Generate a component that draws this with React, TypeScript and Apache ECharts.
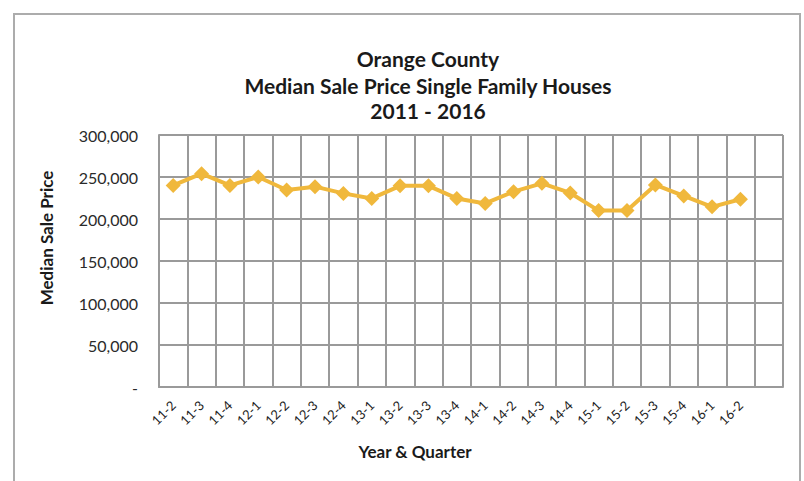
import React, { useEffect, useRef } from "react";
import * as echarts from "echarts";

const categories = ["11-2","11-3","11-4","12-1","12-2","12-3","12-4","13-1","13-2","13-3","13-4","14-1","14-2","14-3","14-4","15-1","15-2","15-3","15-4","16-1","16-2",""];
const prices = [240000,254000,240000,250000,234500,238500,230500,224500,239500,239500,224500,218500,232500,242500,231000,210000,210000,240500,227500,214500,223500,null];
const titleLines = ["Orange County","Median Sale Price Single Family Houses","2011 - 2016"];

export default function App() {
  const ref = useRef<HTMLDivElement>(null);
  useEffect(() => {
    const chart = echarts.init(ref.current!, null, { renderer: "svg" });
    const font = "Lato, 'Liberation Sans', sans-serif";
    chart.setOption({
      animation: false,
      backgroundColor: "#ffffff",
      graphic: [
        { type: "rect", shape: { x: 14, y: 14, width: 786, height: 480 }, style: { fill: "none", stroke: "#acacac", lineWidth: 2 }, silent: true },
        ...titleLines.map((t, i) => ({
          type: "text", x: 428, y: [58, 85, 110][i], style: { text: t, fill: "#1a1a1a", font: `bold 21px ${font}`, textAlign: "center", textVerticalAlign: "middle" },
        })),
        { type: "text", x: 46, y: 238, rotation: Math.PI / 2, style: { text: "Median Sale Price", fill: "#1a1a1a", font: `bold 17px ${font}`, textAlign: "center", textVerticalAlign: "middle" } },
        { type: "text", x: 415, y: 451, style: { text: "Year & Quarter", fill: "#1a1a1a", font: `bold 17px ${font}`, textAlign: "center", textVerticalAlign: "middle" } },
      ],
      grid: { left: 159, top: 135, width: 624, height: 252, containLabel: false },
      xAxis: {
        type: "category",
        data: categories,
        boundaryGap: true,
        axisLine: { show: true, lineStyle: { color: "#9a9a9a", width: 2 } },
        axisTick: { show: false },
        splitLine: { show: true, interval: 0, lineStyle: { color: "#9a9a9a", width: 2 } },
        axisLabel: { interval: 0, rotate: 45, color: "#222", fontFamily: font, fontSize: 13, margin: 16 },
      },
      yAxis: {
        type: "value",
        min: 0,
        max: 300000,
        interval: 50000,
        axisLine: { show: true, lineStyle: { color: "#9a9a9a", width: 2 } },
        axisTick: { show: false },
        splitLine: { show: true, lineStyle: { color: "#9a9a9a", width: 2 } },
        axisLabel: {
          color: "#2a2a2a",
          fontFamily: font,
          fontSize: 16,
          margin: 21,
          formatter: (v: number) => (v === 0 ? "-" : v.toLocaleString("en-US")),
        },
      },
      series: [
        {
          type: "line",
          data: prices,
          symbol: "diamond",
          symbolSize: 15,
          lineStyle: { color: "#F0B83C", width: 4 },
          itemStyle: { color: "#F0B83C" },
          connectNulls: false,
        },
      ],
    });
    return () => chart.dispose();
  }, []);
  return <div ref={ref} style={{ position: "fixed", left: 0, top: 0, width: 804, height: 481 }} />;
}
